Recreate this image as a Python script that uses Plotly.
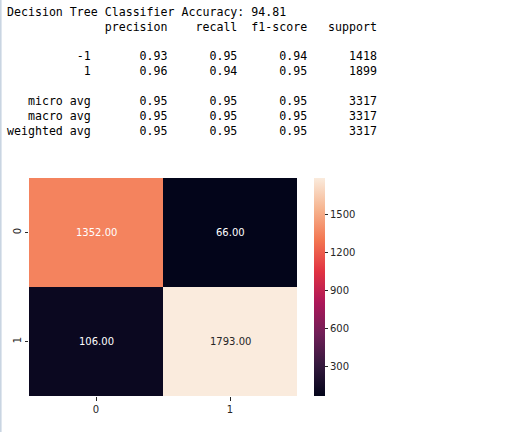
import plotly.graph_objects as go
from plotly.colors import sample_colorscale

# classification report values
model_name = "Decision Tree Classifier"
accuracy = 94.81
report_labels = ["-1", "1", "", "micro avg", "macro avg", "weighted avg"]
precision = [0.93, 0.96, None, 0.95, 0.95, 0.95]
recall = [0.95, 0.94, None, 0.95, 0.95, 0.95]
f1_score = [0.94, 0.95, None, 0.95, 0.95, 0.95]
support = [1418, 1899, None, 3317, 3317, 3317]

# confusion matrix
cm_labels = ["0", "1"]
cm_values = [[1352, 66],
             [106, 1793]]
cbar_ticks = [300, 600, 900, 1200, 1500]

# seaborn "rocket" approximation
rocket = [[0.0, "#03051a"], [1/7, "#35193e"], [2/7, "#701f57"], [3/7, "#ad1759"],
          [4/7, "#e13342"], [5/7, "#f37651"], [6/7, "#f6b48f"], [1.0, "#faebdd"]]

# build the text lines like sklearn does
lines = [f"{model_name} Accuracy: {accuracy}"]
lines.append(" " * 13 + " {:>9} {:>9} {:>9} {:>9}".format("precision", "recall", "f1-score", "support"))
lines.append("")
for lab, p, r, f, s in zip(report_labels, precision, recall, f1_score, support):
    if p is None:
        lines.append("")
    else:
        lines.append("{:>12s} ".format(lab) + " {:>9.2f} {:>9.2f} {:>9.2f} {:>9}".format(p, r, f, s))

fig = go.Figure()
fig.add_trace(go.Heatmap(
    z=cm_values, x=cm_labels, y=cm_labels,
    colorscale=rocket, xgap=0, ygap=0,
    colorbar=dict(x=1.0634, xanchor="left", xpad=0, y=0.5, yanchor="middle", ypad=0,
                  len=1, thickness=11, outlinewidth=0, ticks="outside", ticklen=3.5,
                  tickwidth=1, tickcolor="#262626", tickvals=cbar_ticks,
                  tickfont=dict(family="DejaVu Sans", size=10, color="#262626")),
    hoverinfo="z",
))

# cell annotations, white on dark / dark on light like seaborn
zmin = min(min(r) for r in cm_values)
zmax = max(max(r) for r in cm_values)
for i, row in enumerate(cm_values):
    for j, v in enumerate(row):
        c = sample_colorscale(rocket, [(v - zmin) / (zmax - zmin)])[0]
        rgb = [float(x) / 255 for x in c[c.index("(") + 1:-1].split(",")]
        lin = [x / 12.92 if x <= 0.03928 else ((x + 0.055) / 1.055) ** 2.4 for x in rgb]
        lum = 0.2126 * lin[0] + 0.7152 * lin[1] + 0.0722 * lin[2]
        fig.add_annotation(x=cm_labels[j], y=cm_labels[i], text=f"{v:.2f}", showarrow=False,
                           font=dict(family="DejaVu Sans", size=10,
                                     color="#262626" if lum > 0.408 else "white"))

# report text above the heatmap
line_h = 14.9
for k, ln in enumerate(lines):
    if not ln:
        continue
    fig.add_annotation(text=ln.replace(" ", "\u00a0"), xref="paper", yref="paper",
                       x=(5 - 29) / 268, y=1 + (178 - (11.7 + k * line_h)) / 218,
                       xanchor="left", yanchor="middle", showarrow=False,
                       font=dict(family="DejaVu Sans Mono", size=11.6, color="black"))

# thin window border on the left edge
fig.add_shape(type="line", xref="paper", yref="paper", x0=(0.8 - 29) / 268, x1=(0.8 - 29) / 268,
              y0=-36 / 218, y1=1 + 178 / 218, line=dict(color="#c9d5e2", width=1.6))

fig.update_layout(
    width=515, height=432,
    margin=dict(l=29, r=218, t=178, b=36),
    paper_bgcolor="white", plot_bgcolor="white",
    font=dict(family="DejaVu Sans", size=10, color="#262626"),
    showlegend=False,
)
fig.update_xaxes(type="category", showgrid=False, zeroline=False, ticks="outside",
                 ticklen=3.5, tickcolor="#262626", showline=False)
fig.update_yaxes(type="category", autorange="reversed", showgrid=False, zeroline=False,
                 ticks="outside", ticklen=3.5, tickcolor="#262626", tickangle=-90, showline=False)

fig.write_html("out.html", config={"displayModeBar": False},
               post_script="document.body.style.margin='0';")
